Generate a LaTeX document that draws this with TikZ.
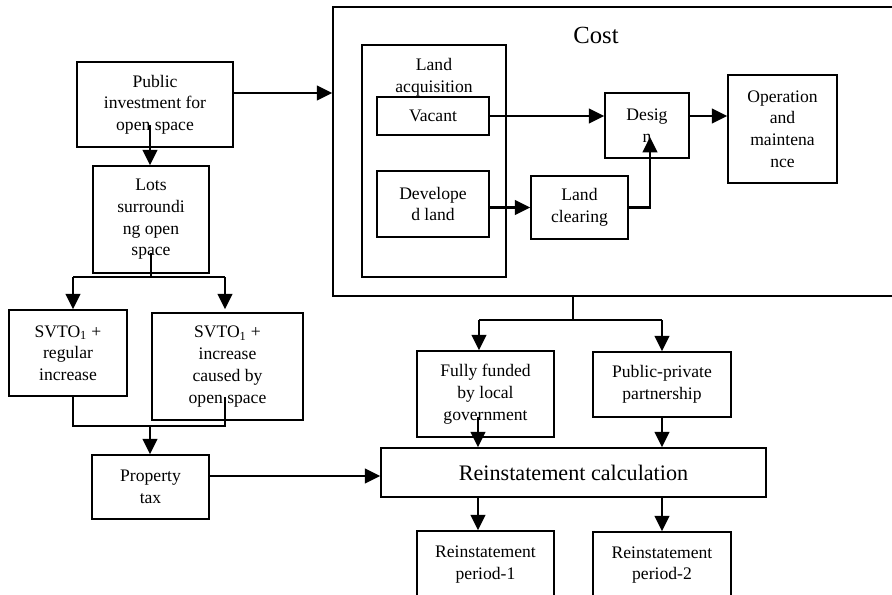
\documentclass[tikz,border=0pt]{standalone}
\usepackage{fontspec}
\setmainfont{Liberation Serif}
\usetikzlibrary{arrows.meta,calc}

% box given by its corners (x1,y1) and (x2,y2), in pixel-like units
\newcommand\flowbox[6]{%
  \node[box, minimum width={(#4-#2)*0.75pt}, minimum height={(#5-#3)*0.75pt}]
    (#1) at ({(#2+#4)/2},{(#3+#5)/2}) {#6};}

\begin{document}
\begin{tikzpicture}[x=0.75pt,y=-0.75pt,
  box/.style={draw, line width=1.2pt, align=center, inner sep=0pt,
    font=\fontsize{13.2}{16.3}\selectfont},
  arr/.style={line width=1.6pt, -{Triangle[length=11.5pt,width=11pt]}},
  link/.style={line width=1.2pt},
]
\useasboundingbox (0,0) rectangle (892,594);
\begin{scope}
\clip (0,0) rectangle (892,594);

% ---- left column ----
\flowbox{pub}{77}{62}{233}{147}{Public\\investment for\\open space}
\flowbox{lots}{93}{166}{209}{273}{Lots\\surroundi\\ng open\\space}
\flowbox{svl}{9}{310}{127}{396}{SVTO\textsubscript{1} +\\regular\\increase}
\flowbox{svr}{152}{313}{303}{420}{SVTO\textsubscript{1} +\\increase\\caused by\\open space}
\flowbox{prop}{92}{455}{209}{519}{Property\\tax}

% ---- cost block ----
\flowbox{cost}{333}{7}{910}{296}{}
\node[font=\fontsize{18.5}{22}\selectfont] (costlbl) at (596,35) {Cost};
\flowbox{landacq}{362}{45}{506}{277}{}
\node[align=center, inner sep=0pt, font=\fontsize{13.2}{16.3}\selectfont]
  (landlbl) at (434,77.5) {Land\\acquisition};
\flowbox{vac}{377}{97}{489}{135}{Vacant}
\flowbox{dev}{377}{171}{489}{237}{Develope\\d land}
\flowbox{clr}{531}{176}{628}{239}{Land\\clearing}
\flowbox{des}{605}{93}{689}{158}{Desig\\n}
\flowbox{op}{728}{75}{837}{183}{Operation\\and\\maintena\\nce}

% ---- funding and reinstatement ----
\flowbox{ff}{417}{351}{554}{437}{Fully funded\\by local\\government}
\flowbox{pp}{593}{352}{731}{417}{Public-private\\partnership}
\node[box, minimum width={385*0.75pt}, minimum height={49*0.75pt},
  font=\fontsize{16.6}{20}\selectfont] (calc) at (573.5,472.5)
  {Reinstatement calculation};
\flowbox{rp1}{417}{531}{554}{598}{Reinstatement\\period-1}
\flowbox{rp2}{593}{532}{731}{598}{Reinstatement\\period-2}

% ---- connector points ----
\coordinate (r93) at (0,93);
\coordinate (pubin) at (150,125);
\coordinate (lotsin) at (151,253);
\coordinate (split) at (151,277);
\coordinate (sl) at (73,277);
\coordinate (sr) at (225,277);
\coordinate (ml) at (73,426);
\coordinate (mr) at (225,426);
\coordinate (svrin) at (225,397);
\coordinate (mc) at (150,426);
\coordinate (r476) at (0,476);
\coordinate (bend) at (650,207.5);
\coordinate (desin) at (650,137);
\coordinate (costj) at (573,320);
\coordinate (fl) at (479,320);
\coordinate (fr) at (662,320);
\coordinate (ffin) at (478,417);

% ---- connectors ----
\draw[arr] (pub.east |- r93) -- (cost.west |- r93);
\draw[arr] (pubin) -- (pubin |- lots.north);
\draw[link] (lotsin) -- (split);
\draw[link] (sl) -- (sr);
\draw[arr] (sl) -- (sl |- svl.north);
\draw[arr] (sr) -- (sr |- svl.north);
\draw[link] (svl.south -| ml) -- (ml) -- (mr) -- (svrin);
\draw[arr] (mc) -- (mc |- prop.north);
\draw[arr] (prop.east |- r476) -- (calc.west |- r476);

\draw[arr] (vac.east) -- (vac.east -| des.west);
\draw[arr] (vac.east -| des.east) -- (vac.east -| op.west);
\draw[arr] (clr.west -| dev.east) -- (clr.west);
\draw[arr] (clr.east) -- (bend) -- (desin);

\draw[link] (cost.south -| costj) -- (costj);
\draw[link] (fl) -- (fr);
\draw[arr] (fl) -- (fl |- ff.north);
\draw[arr] (fr) -- (fr |- pp.north);
\draw[arr] (ffin) -- (ffin |- calc.north);
\draw[arr] (pp.south) -- (pp.south |- calc.north);
\draw[arr] (ffin |- calc.south) -- (ffin |- rp1.north);
\draw[arr] (pp.south |- calc.south) -- (pp.south |- rp2.north);
\end{scope}
\end{tikzpicture}
\end{document}
